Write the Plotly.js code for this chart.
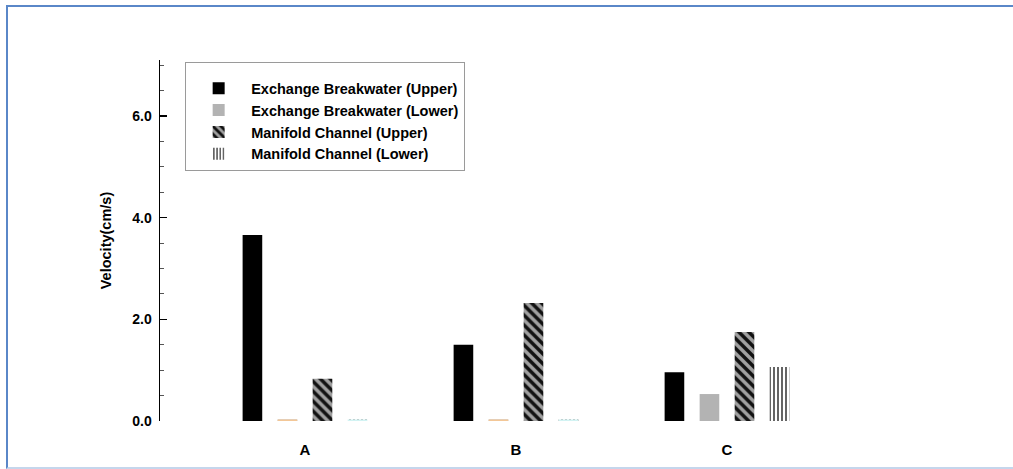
<!DOCTYPE html>
<html>
<head>
<meta charset="utf-8">
<script src="https://cdn.plot.ly/plotly-3.0.1.min.js"></script>
<style>
  html, body { margin:0; padding:0; background:#fff; overflow:hidden; }
  #wrap { position:relative; width:1013px; height:469px; overflow:hidden; }
  #chart { position:absolute; left:0; top:0; width:1013px; height:469px; }
  #frame { position:absolute; left:6px; top:5px; width:1100px; height:460px;
           border-left:2px solid #5a87c8; border-top:2px solid #5a87c8;
           border-right:none; border-bottom:2px solid #c5d6ec; pointer-events:none; }
</style>
</head>
<body>
<div id="wrap">
  <div id="chart"></div>
  <div id="frame"></div>
</div>
<script>
// ---- data ----
const categories = ['A', 'B', 'C'];
const categoryPos = [0, 1, 2];
const seriesNames = [
  'Exchange Breakwater (Upper)',
  'Exchange Breakwater (Lower)',
  'Manifold Channel (Upper)',
  'Manifold Channel (Lower)'
];
const ebUpper = [3.66, 1.50, 0.96];
const ebLower = [0.03, 0.03, 0.53];
const mcUpper = [0.83, 2.32, 1.75];
const mcLower = [0.03, 0.03, 1.06];
const yTickVals = [0, 2, 4, 6];

const FONT = 'Liberation Sans, Arial, sans-serif';

// bar geometry (in category units)
const BW = 0.093, SLOT = 0.166;
const off = k => (k - 1.5) * SLOT - BW / 2;

// near-zero values drawn with a faint tint (as in the scanned original)
const tinyOnly = arr => arr.map(v => (v < 0.1 ? v : null));

const traces = [
  {
    type: 'bar', name: seriesNames[0], x: categoryPos, y: ebUpper,
    width: BW, offset: off(0),
    marker: { color: '#000000', line: { width: 0 } }
  },
  {
    type: 'bar', name: seriesNames[1], x: categoryPos, y: ebLower,
    width: BW, offset: off(1),
    marker: { color: '#b3b3b3', line: { width: 0 } }
  },
  {
    type: 'bar', name: seriesNames[2], x: categoryPos, y: mcUpper,
    width: BW, offset: off(2),
    marker: {
      color: '#a0a0a0', line: { width: 0 },
      pattern: { shape: '\\', fgcolor: '#111111', bgcolor: '#a0a0a0', size: 7, solidity: 0.5 }
    }
  },
  {
    type: 'bar', name: seriesNames[3], x: categoryPos, y: mcLower,
    width: BW, offset: off(3),
    marker: {
      color: '#ffffff', line: { width: 0 },
      pattern: { shape: '|', fgcolor: '#222222', bgcolor: '#ffffff', size: 4, solidity: 0.35 }
    }
  },
  {
    type: 'bar', name: seriesNames[1], x: categoryPos, y: tinyOnly(ebLower),
    width: BW, offset: off(1), showlegend: false,
    marker: { color: '#f3c797', line: { width: 0 } }
  },
  {
    type: 'bar', name: seriesNames[3], x: categoryPos, y: tinyOnly(mcLower),
    width: BW, offset: off(3), showlegend: false,
    marker: { color: '#d2f3f3', line: { width: 0 } }
  }
];

const layout = {
  width: 1013, height: 469,
  margin: { l: 160, r: 113, t: 60, b: 48 },
  paper_bgcolor: 'rgba(0,0,0,0)', plot_bgcolor: 'rgba(0,0,0,0)',
  barmode: 'overlay',
  showlegend: true,
  font: { family: FONT, color: '#000' },
  xaxis: {
    range: [-0.687, 2.82],
    tickvals: categoryPos, ticktext: categories,
    showgrid: false, zeroline: false, showline: false,
    ticks: '', ticklabelstandoff: 18,
    tickfont: { family: FONT, size: 15, weight: 700, color: '#000' }
  },
  yaxis: {
    range: [0, 7.1], autorange: false,
    tickvals: yTickVals, tickformat: '.1f',
    showgrid: false, zeroline: false,
    showline: true, linecolor: '#000', linewidth: 1.5,
    ticks: 'inside', ticklen: 7, tickwidth: 1.5, tickcolor: '#000',
    ticklabelstandoff: 4,
    minor: { dtick: 0.5, ticks: 'inside', ticklen: 4, tickwidth: 1, tickcolor: '#555', showgrid: false },
    tickfont: { family: FONT, size: 14, weight: 700, color: '#000' },
    title: { text: 'Velocity(cm/s)', standoff: 17, font: { family: FONT, size: 14.5, weight: 700, color: '#000' } }
  },
  legend: {
    x: 0.034, y: 0.994, xanchor: 'left', yanchor: 'top',
    bgcolor: '#ffffff', bordercolor: '#9a9a9a', borderwidth: 1,
    font: { family: FONT, size: 14.5, weight: 700, color: '#000' },
    title: { text: ' ', font: { size: 7 } },
    tracegroupgap: 0, itemwidth: 55, traceorder: 'normal'
  }
};

Plotly.newPlot('chart', traces, layout, { displayModeBar: false, staticPlot: true });
</script>
</body>
</html>
